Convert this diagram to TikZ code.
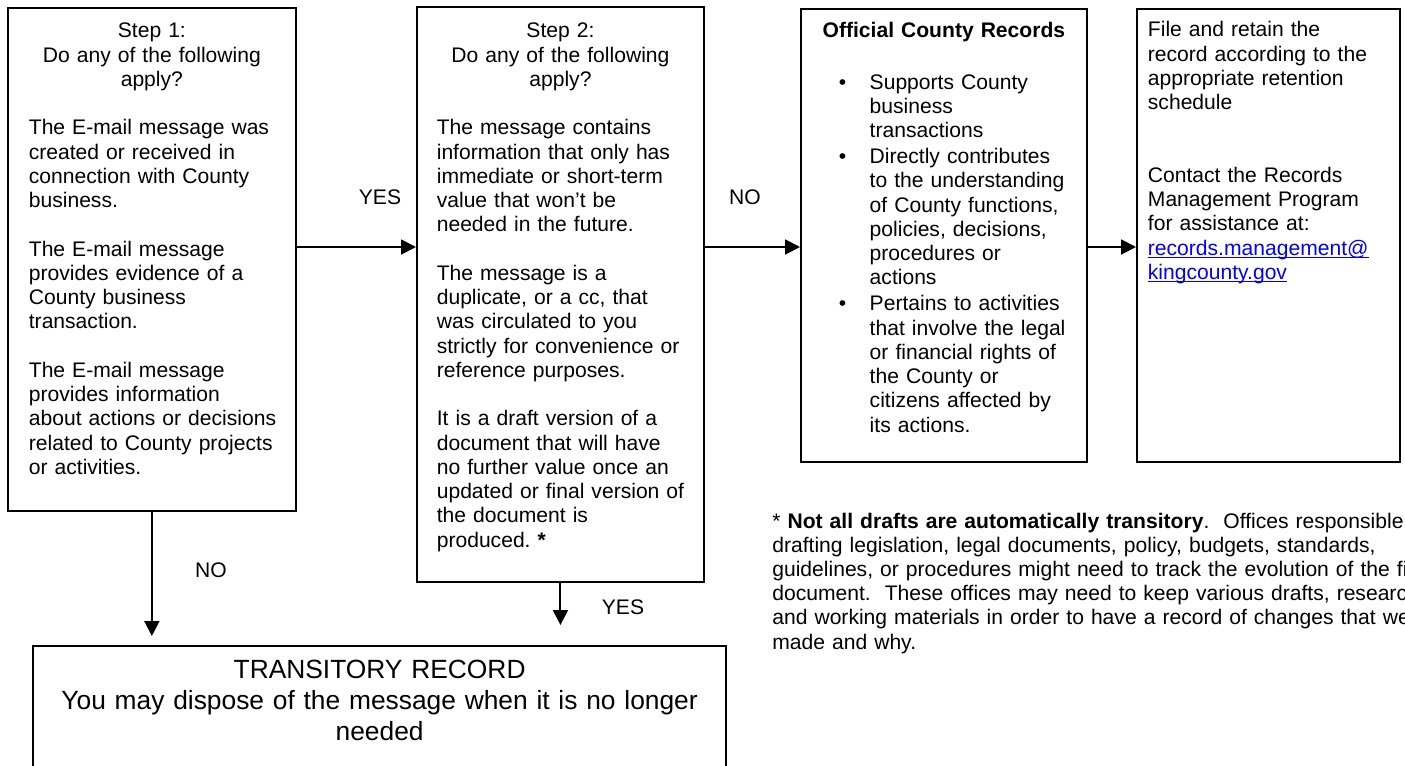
\documentclass[tikz,border=0pt]{standalone}
\usepackage{fontspec}
\setmainfont{Liberation Sans}
\usepackage{tikz}
\usetikzlibrary{arrows.meta}

\definecolor{linkblue}{RGB}{0,0,255}
\newlength\undlen
\newcommand{\undl}[1]{\settowidth{\undlen}{#1}\mbox{\rlap{\rule[-1.6pt]{\undlen}{0.6pt}}#1}}
\newcommand{\recitem}[1]{\par\vspace{1pt}{\leftskip=32.9pt\noindent\llap{\makebox[17.6pt][l]{\textbullet}}#1\par}}

\tikzset{
  box/.style={draw, line width=1.1pt, anchor=north west, inner xsep=6pt, inner ysep=0pt},
  flow/.style={line width=1.1pt, -{Triangle[length=8.5pt,width=8.5pt]}},
  every node/.style={font=\fontsize{12}{13.8}\selectfont}
}

\begin{document}
\begin{tikzpicture}[x=0.02cm, y=-0.02cm]
        \useasboundingbox (0,0) rectangle (1405,765);

        % Step boxes
        \node[box, text width=151.8pt, text height=17pt, text depth=269.3pt] (step1) at (7,7) {%
          {\centering Step 1:\\Do any of the following\\apply?\par}
          \leftskip=5.9pt
          \vspace{\baselineskip}
          The E-mail message was\\created or received in\\connection with County\\business.\par
          \vspace{\baselineskip}
          The E-mail message\\provides evidence of a\\County business\\transaction.\par
          \vspace{\baselineskip}
          The E-mail message\\provides information\\about actions or decisions\\related to County projects\\or activities.\par};
        \node[box, text width=151.3pt, text height=17.6pt, text depth=309.5pt] (step2) at (416,6) {%
          {\centering Step 2:\\Do any of the following\\apply?\par}
          \leftskip=5.3pt
          \vspace{\baselineskip}
          The message contains\\information that only has\\immediate or short-term\\value that won’t be\\needed in the future.\par
          \vspace{\baselineskip}
          The message is a\\duplicate, or a cc, that\\was circulated to you\\strictly for convenience or\\reference purposes.\par
          \vspace{\baselineskip}
          It is a draft version of a\\document that will have\\no further value once an\\updated or final version of\\the document is\\produced.\ \textbf{*}\par};

        % Record boxes
        \node[box, inner xsep=6.24pt, text width=150.2pt, text height=16.4pt, text depth=241.5pt] (official) at (800,8) {%
          {\centering\textbf{Official County Records}\par}
          \vspace{14.4pt}
          \recitem{Supports County\\business\\transactions}
          \recitem{Directly contributes\\to the understanding\\of County functions,\\policies, decisions,\\procedures or\\actions}
          \recitem{Pertains to activities\\that involve the legal\\or financial rights of\\the County or\\citizens affected by\\its actions.}};
        \node[box, inner xsep=6.24pt, text width=137.2pt, text height=15.9pt, text depth=242pt] (retain) at (1136,8) {%
          File and retain the\\record according to the\\appropriate retention\\schedule\par
          \vspace{2\baselineskip}
          Contact the Records\\Management Program\\for assistance at:\\{\color{linkblue}\undl{records.management@}\\\undl{kingcounty.gov}}\par};
        \node[box, inner xsep=12.3pt, text width=370pt, align=center, text height=18.7pt, text depth=60.7pt,
              font=\fontsize{15}{17.6}\selectfont] (transit) at (32,645) {%
          TRANSITORY RECORD\\You may dispose of the message when it is no longer\\needed};

        % Footnote
        \node[anchor=base west, text width=480pt, align=left, inner sep=0pt] (note) at (772,528) {%
          * \textbf{Not all drafts are automatically transitory}.\ \ Offices responsible for\\
          drafting legislation, legal documents, policy, budgets, standards,\\
          guidelines, or procedures might need to track the evolution of the final\\
          document.\ \ These offices may need to keep various drafts, research\\
          and working materials in order to have a record of changes that were\\
          made and why.};

        % Arrows
        \coordinate (row) at (0,247);
        \coordinate (noend) at (152,636);
        \coordinate (yesend) at (560,625);
        \draw[flow] (step1.east |- row) -- (step2.west |- row);
        \draw[flow] (step2.east |- row) -- (official.west |- row);
        \draw[flow] (official.east |- row) -- (retain.west |- row);
        \draw[flow] (step1.south) -- (step1.south |- noend);
        \draw[flow] (step2.south) -- (step2.south |- yesend);

        % Labels
        \node (yes1) at (380,197) {YES};
        \node (no1) at (745,197) {NO};
        \node (no2) at (211,570) {NO};
        \node (yes2) at (623,607) {YES};
    \end{tikzpicture}
\end{document}
